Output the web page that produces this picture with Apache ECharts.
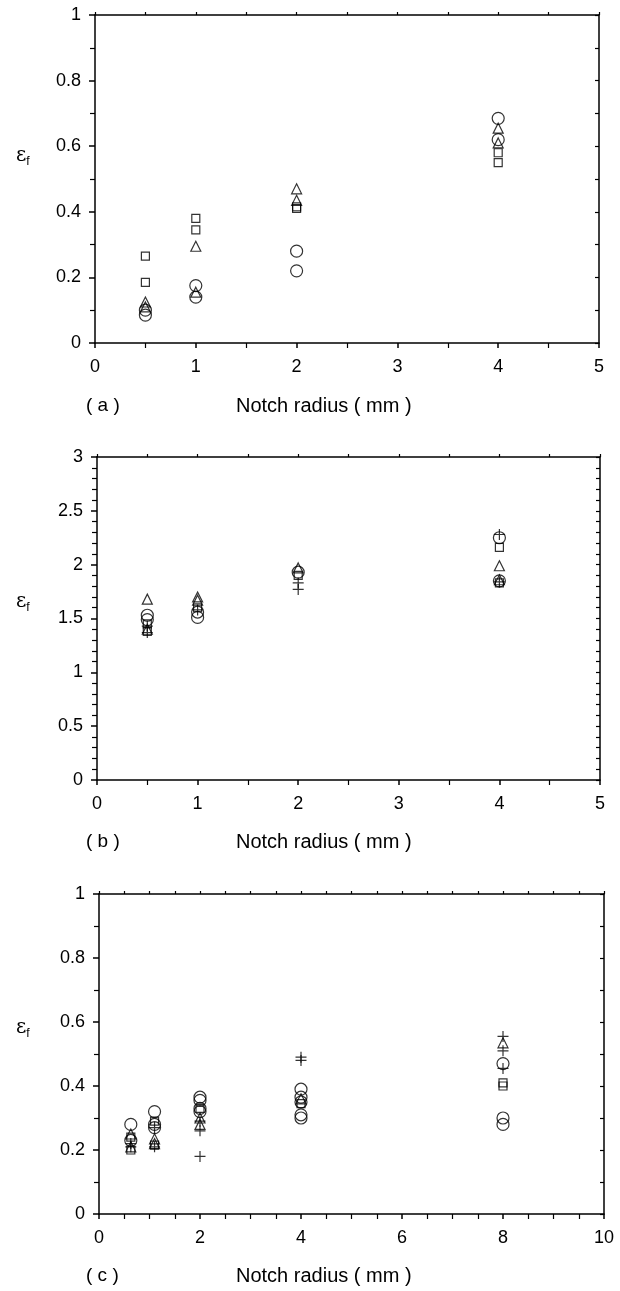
<!DOCTYPE html>
<html>
<head>
<meta charset="utf-8">
<script src="https://cdn.jsdelivr.net/npm/echarts@6/dist/echarts.min.js"></script>
<style>
  html, body { margin: 0; padding: 0; background: #fff; }
  #main { width: 620px; height: 1291px; }
</style>
</head>
<body>
<div id="main"></div>
<script>
// (a) eps_f vs notch radius
const aCircle = [[0.5, 0.085], [0.5, 0.10], [1, 0.175], [1, 0.14], [2, 0.28], [2, 0.22], [4, 0.685], [4, 0.62]];
const aTriangle = [[0.5, 0.125], [0.5, 0.11], [1, 0.295], [1, 0.155], [2, 0.47], [2, 0.435], [4, 0.655], [4, 0.61]];
const aSquare = [[0.5, 0.265], [0.5, 0.185], [1, 0.38], [1, 0.345], [2, 0.41], [2, 0.415], [4, 0.58], [4, 0.55]];

// (b)
const bCircle = [[0.5, 1.53], [0.5, 1.49], [1, 1.56], [1, 1.51], [2, 1.93], [4, 2.25], [4, 1.85]];
const bTriangle = [[0.5, 1.68], [0.5, 1.40], [1, 1.70], [1, 1.67], [2, 1.97], [4, 1.99], [4, 1.86]];
const bSquare = [[0.5, 1.45], [0.5, 1.38], [1, 1.60], [2, 1.90], [4, 2.16], [4, 1.83]];
const bPlus = [[0.5, 1.37], [0.5, 1.43], [1, 1.58], [2, 1.83], [2, 1.77], [4, 2.28], [4, 1.84]];

// (c)
const cCircle = [[0.63, 0.28], [0.63, 0.23], [1.1, 0.32], [1.1, 0.28], [1.1, 0.27], [2, 0.365], [2, 0.355], [2, 0.33], [2, 0.32],
  [4, 0.39], [4, 0.365], [4, 0.35], [4, 0.31], [4, 0.30], [8, 0.47], [8, 0.30], [8, 0.28]];
const cTriangle = [[0.63, 0.25], [0.63, 0.21], [1.1, 0.235], [1.1, 0.22], [2, 0.30], [2, 0.28], [4, 0.36], [8, 0.535]];
const cSquare = [[0.63, 0.24], [0.63, 0.20], [1.1, 0.29], [1.1, 0.215], [2, 0.33], [4, 0.345], [8, 0.41], [8, 0.40]];
const cPlus = [[0.63, 0.22], [0.63, 0.21], [1.1, 0.21], [1.1, 0.27], [2, 0.29], [2, 0.26], [2, 0.18], [4, 0.49], [4, 0.48],
  [8, 0.555], [8, 0.51], [8, 0.455]];

const xTitle = 'Notch radius ( mm )';
const panelTags = ['( a )', '( b )', '( c )'];

const font = 'Liberation Sans, Arial, sans-serif';
const plusPath = 'path://M0,5L10,5M5,0L5,10';

const grids = [
  { left: 95, top: 15, width: 504, height: 328 },
  { left: 97, top: 457, width: 503, height: 323 },
  { left: 99, top: 894, width: 505, height: 320 }
];
const xRange = [[0, 5, 1, 2], [0, 5, 1, 2], [0, 10, 2, 4]];
const yRange = [[0, 1, 0.2, 2, 0.1], [0, 3, 0.5, 5, 0.1], [0, 1, 0.2, 2, 0.1]];

const line = { color: '#000', width: 1.5 };
let xAxes = [], yAxes = [];
grids.forEach((g, i) => {
  const [x0, x1, xi, xs] = xRange[i];
  const [y0, y1, yi, ys, yr] = yRange[i];
  xAxes.push({
    type: 'value', gridIndex: i, position: 'bottom', min: x0, max: x1, interval: xi,
    axisLine: { onZero: false, lineStyle: line },
    axisTick: { inside: false, length: 5, lineStyle: line },
    minorTick: { show: true, splitNumber: xs, length: 5, lineStyle: { color: '#000', width: 1.2 } },
    splitLine: { show: false },
    axisLabel: { margin: 15, color: '#000', fontSize: 18, fontFamily: font }
  });
  xAxes.push({
    type: 'value', gridIndex: i, position: 'top', min: x0, max: x1, interval: xi / xs,
    axisLine: { onZero: false, lineStyle: line },
    axisTick: { inside: false, length: 3, lineStyle: { color: '#000', width: 1.2 } },
    splitLine: { show: false }, axisLabel: { show: false }
  });
  yAxes.push({
    type: 'value', gridIndex: i, position: 'left', min: y0, max: y1, interval: yi,
    axisLine: { onZero: false, lineStyle: line },
    axisTick: { inside: false, length: 6, lineStyle: line },
    minorTick: { show: true, splitNumber: ys, length: 5, lineStyle: { color: '#000', width: 1.2 } },
    splitLine: { show: false },
    axisLabel: { margin: 14, color: '#000', fontSize: 18, fontFamily: font }
  });
  yAxes.push({
    type: 'value', gridIndex: i, position: 'right', min: y0, max: y1, interval: yr,
    axisLine: { onZero: false, lineStyle: line },
    axisTick: { inside: true, length: 4, lineStyle: { color: '#000', width: 1.2 } },
    splitLine: { show: false }, axisLabel: { show: false }
  });
});

function pts(name, data, panel, symbol, size) {
  return {
    name: name, type: 'scatter', data: data,
    xAxisIndex: panel * 2, yAxisIndex: panel * 2,
    symbol: symbol, symbolSize: size, symbolKeepAspect: true,
    itemStyle: { color: 'rgba(0,0,0,0)', borderColor: '#000', borderWidth: 1.2 },
    emphasis: { disabled: true }, silent: true
  };
}

const series = [
  pts('circle', aCircle, 0, 'circle', 12),
  pts('triangle', aTriangle, 0, 'triangle', 10),
  pts('square', aSquare, 0, 'rect', 8),
  pts('circle', bCircle, 1, 'circle', 12),
  pts('triangle', bTriangle, 1, 'triangle', 10),
  pts('square', bSquare, 1, 'rect', 8),
  pts('plus', bPlus, 1, plusPath, 11),
  pts('circle', cCircle, 2, 'circle', 12),
  pts('triangle', cTriangle, 2, 'triangle', 10),
  pts('square', cSquare, 2, 'rect', 8),
  pts('plus', cPlus, 2, plusPath, 11)
];

const titleY = [406, 842, 1276];
const epsY = [158, 604, 1030];
const graphic = [];
titleY.forEach((y, i) => {
  graphic.push({ type: 'text', left: 86, top: y - 10, style: { text: panelTags[i], fontSize: 19, fontFamily: font, fill: '#000' } });
  graphic.push({ type: 'text', left: 236, top: y - 10, style: { text: xTitle, fontSize: 20, fontFamily: font, fill: '#000' } });
  graphic.push({
    type: 'text', left: 16, top: epsY[i] - 12,
    style: {
      text: '{e|ε}{s|f}', fill: '#000',
      rich: { e: { fontSize: 20, fontFamily: 'DejaVu Serif', fill: '#000' }, s: { fontSize: 12, fontFamily: font, fill: '#000', padding: [12, 0, 0, 0] } }
    }
  });
});

const myChart = echarts.init(document.getElementById('main'));
myChart.setOption({
  animation: false,
  backgroundColor: '#fff',
  grid: grids,
  xAxis: xAxes,
  yAxis: yAxes,
  series: series,
  graphic: graphic
});
</script>
</body>
</html>
